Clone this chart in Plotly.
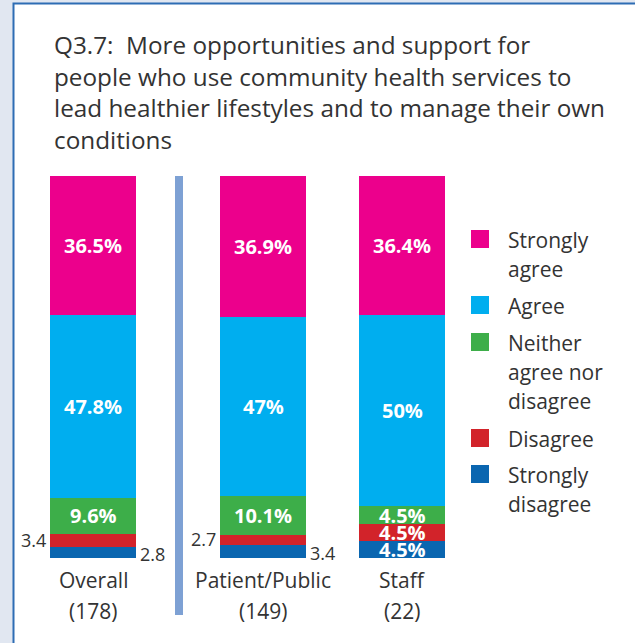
import plotly.graph_objects as go

# ---------------- data ----------------
groups = ["Overall", "Patient/Public", "Staff"]
group_n = ["(178)", "(149)", "(22)"]
responses = ["Strongly agree", "Agree", "Neither agree nor disagree", "Disagree", "Strongly disagree"]
legend_lines = [["Strongly", "agree"], ["Agree"], ["Neither", "agree nor", "disagree"],
                ["Disagree"], ["Strongly", "disagree"]]
strongly_agree = [36.5, 36.9, 36.4]
agree = [47.8, 47.0, 50.0]
neither = [9.6, 10.1, 4.5]
disagree = [3.4, 2.7, 4.5]
strongly_disagree = [2.8, 3.4, 4.5]
label_text = {
    "Strongly agree": ["36.5%", "36.9%", "36.4%"],
    "Agree": ["47.8%", "47%", "50%"],
    "Neither agree nor disagree": ["9.6%", "10.1%", "4.5%"],
    "Disagree": ["3.4", "2.7", "4.5%"],
    "Strongly disagree": ["2.8", "3.4", "4.5%"],
}
title_lines = ["Q3.7:  More opportunities and support for",
               "people who use community health services to",
               "lead healthier lifestyles and to manage their own",
               "conditions"]

# ---------------- layout constants ----------------
W, H = 635, 643
FONT = "Open Sans"
TXT = "#333333"
colors = ["#EC008C", "#00AEEF", "#3DAE49", "#D2232A", "#0A66B0"]
bar_x = [93, 263, 402]       # pixel positions (x axis range = pixels)
bar_w = 86
sep_x = 179
plot_top, plot_bot = 176, 558

def py(p):
    return 1 - p / H

series = [strongly_disagree, disagree, neither, agree, strongly_agree]
names = responses[::-1]
cols = colors[::-1]

fig = go.Figure()
for vals, nm, c in zip(series, names, cols):
    fig.add_trace(go.Bar(x=bar_x, y=vals, name=nm, marker=dict(color=c, line=dict(width=0)),
                         width=bar_w, showlegend=False, hoverinfo="skip"))

annotations = []
# in-bar / side labels
for gi in range(len(groups)):
    base = 0
    for vals, nm in zip(series, names):
        v = vals[gi]
        mid = base + v / 2
        t = label_text[nm][gi]
        small = t.find("%") < 0
        if not small:
            annotations.append(dict(x=bar_x[gi], y=mid, xref="x", yref="y", text="<b>" + t + "</b>",
                                    showarrow=False, font=dict(family=FONT, size=20, color="white"),
                                    xanchor="center", yanchor="middle"))
        else:
            if nm == "Disagree":
                annotations.append(dict(x=bar_x[gi] - bar_w / 2, y=mid, xref="x", yref="y", text=t,
                                        showarrow=False, font=dict(family=FONT, size=18, color=TXT),
                                        xanchor="right", yanchor="middle", xshift=-2, yshift=1))
            else:
                annotations.append(dict(x=bar_x[gi] + bar_w / 2, y=mid, xref="x", yref="y", text=t,
                                        showarrow=False, font=dict(family=FONT, size=18, color=TXT),
                                        xanchor="left", yanchor="middle", xshift=2, yshift=-1))
        base += v

# category labels (two lines each)
for gi, g in enumerate(groups):
    for li, t in enumerate([g, group_n[gi]]):
        annotations.append(dict(x=bar_x[gi], y=0, xref="x", yref="y", text=t,
                                showarrow=False, font=dict(family=FONT, size=21, color=TXT),
                                xanchor="center", yanchor="middle", yshift=-(580 - plot_bot) - 31 * li))

# title
for li, t in enumerate(title_lines):
    annotations.append(dict(x=52 / W, y=py(45 + 31.5 * li), xref="paper", yref="paper", text=t,
                            showarrow=False, font=dict(family=FONT, size=24.3, color=TXT),
                            xanchor="left", yanchor="middle"))

shapes = [
    # white panel with blue border
    dict(type="rect", xref="paper", yref="paper", x0=13.5 / W, x1=1.05, y0=-0.05, y1=py(3.5),
         fillcolor="white", line=dict(color="#2E6DB4", width=2), layer="below"),
    # separator
    dict(type="line", xref="x", yref="paper", x0=sep_x, x1=sep_x, y0=py(615), y1=py(176),
         line=dict(color="#7EA1D4", width=8)),
]

# custom legend
leg_tops = [230, 296, 333, 429, 465]
for c, lt in zip(colors, leg_tops):
    shapes.append(dict(type="rect", xref="paper", yref="paper", x0=471 / W, x1=489 / W,
                       y0=py(lt + 18), y1=py(lt), fillcolor=c, line=dict(width=0)))
for lt, lines in zip(leg_tops, legend_lines):
    for li, t in enumerate(lines):
        annotations.append(dict(x=506 / W, y=py(lt + 10 + 29 * li), xref="paper", yref="paper", text=t,
                                showarrow=False, font=dict(family=FONT, size=21, color=TXT),
                                xanchor="left", yanchor="middle"))

fig.update_layout(
    width=W, height=H, margin=dict(l=0, r=0, t=0, b=0),
    paper_bgcolor="#E1E7F1", plot_bgcolor="rgba(0,0,0,0)",
    barmode="stack", bargap=0,
    xaxis=dict(range=[0, W], domain=[0, 1], visible=False, fixedrange=True),
    yaxis=dict(range=[0, 100], domain=[py(plot_bot), py(plot_top)], visible=False, fixedrange=True),
    annotations=annotations, shapes=shapes,
    font=dict(family=FONT, color=TXT),
)

fig.write_html("out.html")
